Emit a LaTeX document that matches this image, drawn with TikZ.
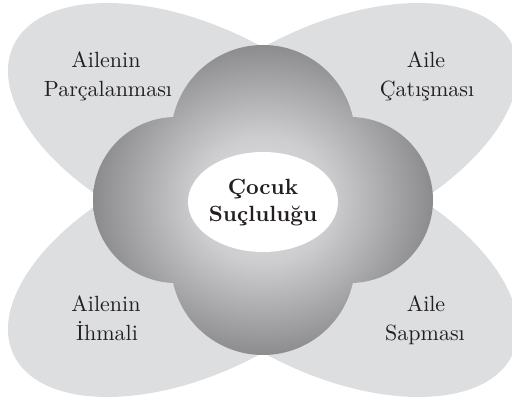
\documentclass[tikz,border=0pt]{standalone}
\usepackage{fontspec}
\setmainfont{lmroman10}[Extension=.otf, UprightFont=*-regular, BoldFont=*-bold, ItalicFont=*-italic]
\definecolor{petal}{HTML}{DDDEE0}
\definecolor{txt}{HTML}{231F20}
\definecolor{flA}{HTML}{E2E2E4}
\definecolor{flB}{HTML}{CDCDCF}
\definecolor{flC}{HTML}{8A8A8C}
\pgfdeclareradialshading{flowershade}{\pgfpointorigin}{color(0bp)=(flA); color(10bp)=(flB); color(25bp)=(flC); color(50bp)=(flC)}
\tikzset{
  petalfill/.style={fill=petal},
  lbl/.style={text=txt, font=\fontsize{22}{26}\selectfont, inner sep=0pt, anchor=base},
  clbl/.style={text=txt, font=\fontsize{22}{26}\selectfont\bfseries, inner sep=0pt, anchor=base}
}
\begin{document}
\begin{tikzpicture}[x=1pt,y=1pt]
\useasboundingbox (0,0) rectangle (512,404);
\begin{scope}
  \clip (0,0) rectangle (512,404);
  % petals
  \fill[petalfill, rotate around={-25:(194.6,273.7)}] (194.6,273.7) ellipse [x radius=200, y radius=105];
  \fill[petalfill, rotate around={25:(331.4,273.7)}] (331.4,273.7) ellipse [x radius=200, y radius=105];
  \fill[petalfill, rotate around={25:(194.6,134.3)}] (194.6,134.3) ellipse [x radius=200, y radius=105];
  \fill[petalfill, rotate around={-25:(331.4,134.3)}] (331.4,134.3) ellipse [x radius=200, y radius=105];
\end{scope}
% flower
\begin{scope}
  \clip (263,267) circle (92) (263,141) circle (92) (176,204) circle (83) (350,204) circle (83);
  \shade[shading=flowershade] (263,204) ellipse [x radius=172, y radius=158];
\end{scope}
% centre
\fill[white] (263,202) ellipse [x radius=75, y radius=50];
\node[clbl] (c1) at (263,209) {Çocuk};
\node[clbl] (c2) at (263,182) {Suçluluğu};
% labels
\node[lbl] (tl1) at (106,336) {Ailenin};
\node[lbl] (tl2) at (108,307) {Parçalanması};
\node[lbl] (tr1) at (426,336) {Aile};
\node[lbl] (tr2) at (427,307) {Çatışması};
\node[lbl] (bl1) at (106,92) {Ailenin};
\node[lbl] (bl2) at (107,63) {İhmali};
\node[lbl] (br1) at (426,92) {Aile};
\node[lbl] (br2) at (425,63) {Sapması};
\end{tikzpicture}
\end{document}
